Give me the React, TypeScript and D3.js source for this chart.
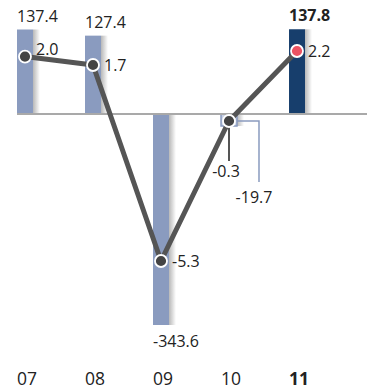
import React from 'react'
import * as d3 from 'd3'

const years = ['07', '08', '09', '10', '11']
const barValues = [137.4, 127.4, -343.6, -19.7, 137.8]
const lineValues = [2.0, 1.7, -5.3, -0.3, 2.2]

const width = 367
const height = 390
const font = '"Open Sans", "Noto Sans", sans-serif'

const barColor = '#8a9bbf'
const lastBarColor = '#173e6c'

export default function App() {
  const x = d3.scaleBand<string>()
    .domain(years)
    .range([17, 305])
    .paddingInner(0.765)
    .paddingOuter(0)
    .align(0)

  const yBar = d3.scaleLinear().domain([-343.6, 137.4]).range([325, 29.5])
  const yLine = d3.scaleLinear().domain([-5.3, 2.2]).range([261, 51])
  const base = 114

  const cx = (d: string) => (x(d) ?? 0) + x.bandwidth() / 2
  const pts: [number, number][] = years.map((d, i) => [cx(d), yLine(lineValues[i])])
  const line = d3.line()

  const bw = x.bandwidth()
  const last = years.length - 1

  return (
    <svg width={width} height={height}
      style={{ position: 'absolute', left: 0, top: 0, fontFamily: font }}>
      <defs>
        <linearGradient id='shadow' x1='0' x2='1' y1='0' y2='0'>
          <stop offset='0%' stopColor='#000' stopOpacity={0.28} />
          <stop offset='100%' stopColor='#000' stopOpacity={0} />
        </linearGradient>
      </defs>

      {/* bars */}
      {years.map((d, i) => {
        const v = barValues[i]
        const y0 = Math.min(yBar(v), yBar(0))
        const h = Math.abs(yBar(v) - yBar(0))
        const bx = x(d) ?? 0
        const small = Math.abs(v) < 30
        return <g key={d}>
          <rect x={bx + bw} y={y0} width={7} height={h} fill='url(#shadow)' />
          <rect x={bx} y={y0} width={bw} height={h}
            fill={i === last ? lastBarColor : small ? '#c8d1e5' : barColor}
            stroke={small ? barColor : 'none'} strokeWidth={1.5} />
        </g>
      })}

      {/* zero line */}
      <line x1={17} x2={width} y1={base} y2={base} stroke='#a9a9a9' strokeWidth={2} />

      {/* bar value labels */}
      {years.map((d, i) => {
        const v = barValues[i]
        const bx = x(d) ?? 0
        if (v > 0) {
          return <text key={d} x={bx} y={yBar(v) - 8} fontSize={16} fill='#222'
            fontWeight={i === last ? 'bold' : 'normal'}>{v.toFixed(1)}</text>
        }
        if (Math.abs(v) > 30) {
          return <text key={d} x={bx} y={yBar(v) + 22} fontSize={16} fill='#222'>{v.toFixed(1)}</text>
        }
        // small negative bar: callout
        const lx = bx + bw + 22
        return <g key={d}>
          <polyline points={`${bx + bw},${base + 7} ${lx},${base + 7} ${lx},${base + 68}`}
            fill='none' stroke='#8a9bbf' strokeWidth={1.5} />
          <text x={lx - 5} y={base + 89} fontSize={16} fill='#222' textAnchor='middle'>{v.toFixed(1)}</text>
        </g>
      })}

      {/* line */}
      <path d={line(pts) ?? ''} fill='none' stroke='#555' strokeWidth={5} strokeLinejoin='round' />

      {/* points and labels */}
      {pts.map(([px, py], i) => {
        const v = lineValues[i]
        const nearZero = Math.abs(v) < 1
        return <g key={i}>
          {nearZero && (
            <line x1={px} x2={px} y1={py} y2={py + 40} stroke='#555' strokeWidth={2} />
          )}
          <circle cx={px} cy={py} r={6} fill={i === last ? '#ec5363' : '#444'}
            stroke='#fff' strokeWidth={1.8} />
          {nearZero
            ? <text x={px - 3} y={py + 56} fontSize={16} fill='#222' textAnchor='middle'>{v.toFixed(1)}</text>
            : <text x={px + 11} y={i === 0 ? py - 2 : py + 6} fontSize={16} fill='#222'>{v.toFixed(1)}</text>}
        </g>
      })}

      {/* categories */}
      {years.map((d, i) => (
        <text key={d} x={x(d) ?? 0} y={385} fontSize={17.5} fill='#222'
          fontWeight={i === last ? 'bold' : 'normal'}>{d}</text>
      ))}
    </svg>
  )
}
